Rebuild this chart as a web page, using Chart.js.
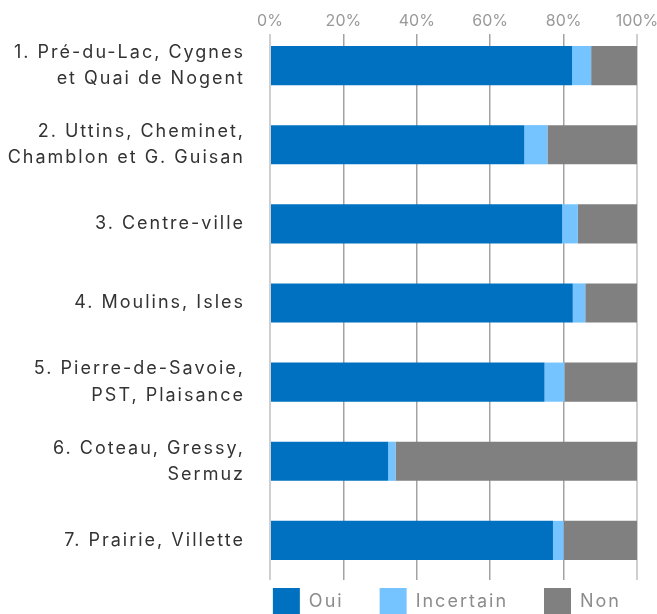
<!DOCTYPE html>
<html>
<head>
<meta charset="utf-8">
<script src="https://cdn.jsdelivr.net/npm/chart.js@4"></script>
<style>
    html, body { margin: 0; padding: 0; background: #fff; }
</style>
</head>
<body>
<canvas id="quartiersChart" width="657" height="614"></canvas>
<script>
// --- Données (% des réponses) ---
const quartiers = [
    ["1. Pré-du-Lac, Cygnes", "et Quai de Nogent"],
    ["2. Uttins, Cheminet,", "Chamblon et G. Guisan"],
    "3. Centre-ville",
    "4. Moulins, Isles",
    ["5. Pierre-de-Savoie,", "PST, Plaisance"],
    ["6. Coteau, Gressy,", "Sermuz"],
    "7. Prairie, Villette"
];
const oui = [82.3, 69.3, 79.6, 82.5, 74.8, 32.2, 77.1];
const incertain = [5.2, 6.3, 4.3, 3.4, 5.4, 2.0, 2.9];
const non = [12.5, 24.4, 16.1, 14.1, 19.8, 65.8, 20.0];
const xTicks = [0, 20, 40, 60, 80, 100];

const font = "Inter";
const legendPadding = 36;

// espacement des lettres pour les libellés et la légende
function addTracking(obj, names) {
    names.forEach(name => {
        const orig = obj[name];
        obj[name] = function (...args) {
            this.ctx.letterSpacing = '2px';
            const res = orig.apply(this, args);
            this.ctx.letterSpacing = '0px';
            return res;
        };
    });
}

const trackingPlugin = {
    id: 'tracking',
    beforeLayout(chart) {
        if (chart.legend && !chart.legend._tracked) {
            addTracking(chart.legend, ['fit', 'draw']);
            chart.legend._tracked = true;
        }
    },
    afterLayout(chart) {
        const y = chart.scales.y;
        if (!y._tracked) {
            addTracking(y, ['drawLabels']);
            y._tracked = true;
        }
        // légende collée sous la zone du graphique
        chart.legend.top = chart.chartArea.bottom + 8 - legendPadding;
    },
    beforeDatasetsDraw(chart) {
        // petit espace entre les étiquettes du haut et la grille
        const { ctx, chartArea } = chart;
        ctx.save();
        ctx.fillStyle = '#ffffff';
        ctx.fillRect(chartArea.left - 4, chartArea.top, chartArea.width + 8, 8);
        ctx.restore();
    }
};

const chart = new Chart(
    document.getElementById("quartiersChart").getContext("2d"),
    {
        type: 'bar',
        data: {
            labels: quartiers,
            datasets: [
                { label: "Oui", data: oui, backgroundColor: '#0070c0' },
                { label: "Incertain", data: incertain, backgroundColor: '#75c4ff' },
                { label: "Non", data: non, backgroundColor: '#808080' }
            ]
        },
        options: {
            indexAxis: 'y',
            responsive: false,
            animation: false,
            datasets: {
                bar: { categoryPercentage: 1, barPercentage: 0.495 }
            },
            plugins: {
                tooltip: { enabled: false },
                legend: {
                    position: 'bottom',
                    align: 'end',
                    maxHeight: 34,
                    labels: {
                        font: { family: font, size: 18 },
                        color: '#8c8c8c',
                        boxWidth: 27,
                        boxHeight: 27,
                        padding: legendPadding
                    }
                }
            },
            scales: {
                x: {
                    position: 'top',
                    stacked: true,
                    min: 0,
                    max: 100,
                    afterBuildTicks: scale => {
                        scale.ticks = xTicks.map(v => ({ value: v }));
                    },
                    ticks: {
                        font: { family: font, size: 16 },
                        color: '#999999',
                        padding: -5,
                        callback: v => v + '%'
                    },
                    grid: {
                        color: ctx => (ctx.index === 0 || ctx.index === xTicks.length - 1) ? '#cfcfcf' : '#a3a3a3',
                        lineWidth: ctx => (ctx.index === 0 || ctx.index === xTicks.length - 1) ? 2 : 1.5,
                        tickLength: 0
                    },
                    border: { display: false },
                    afterFit: scale => {
                        scale.height = 26;
                        scale.paddingRight = 20;
                    }
                },
                y: {
                    stacked: true,
                    ticks: {
                        font: { family: font, size: 18, lineHeight: 1.45 },
                        color: '#333333',
                        padding: 25
                    },
                    grid: { display: false, drawTicks: false },
                    border: { display: false },
                    afterFit: scale => {
                        scale.width = 270;
                        scale.paddingTop = 0;
                        scale.paddingBottom = 0;
                    }
                }
            }
        },
        plugins: [trackingPlugin]
    }
);
</script>
</body>
</html>
